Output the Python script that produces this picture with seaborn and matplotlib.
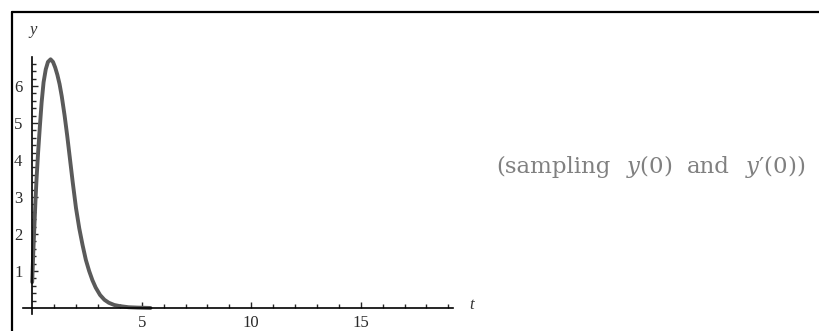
import numpy as np
import pandas as pd
import seaborn as sns
import matplotlib.pyplot as plt
from matplotlib.lines import Line2D
from matplotlib.ticker import FixedLocator

# curve
t_vals = [0.0, 0.05, 0.1, 0.15, 0.2, 0.27, 0.35, 0.43, 0.52, 0.62, 0.72, 0.84,
          0.95, 1.05, 1.15, 1.25, 1.35, 1.48, 1.6, 1.72, 1.85, 2.0, 2.15, 2.3,
          2.45, 2.6, 2.75, 2.9, 3.1, 3.3, 3.5, 3.75, 4.0, 4.4, 4.8, 5.4]
y_vals = [0.7, 1.5, 2.2, 2.9, 3.5, 4.2, 4.9, 5.55, 6.1, 6.45, 6.65, 6.72,
          6.65, 6.5, 6.3, 6.05, 5.72, 5.2, 4.65, 4.05, 3.4, 2.7, 2.15, 1.7,
          1.3, 1.0, 0.75, 0.55, 0.35, 0.22, 0.14, 0.08, 0.05, 0.02, 0.01, 0.0]

x_major = [5, 10, 15]
x_minor = [i for i in range(1, 20) if i not in x_major]
y_major = [1, 2, 3, 4, 5, 6]
y_minor = [round(0.2 * k, 1) for k in range(1, 34) if k % 5 != 0]

# caption words (the reference sets them loosely spaced)
caption_words = ["(sampling", "$y$(0)", "and", "$y$\u2032(0))"]
caption_x_px = [496, 626, 687, 745]

sns.set_style("white")
plt.rcParams['font.family'] = ['Liberation Serif', 'DejaVu Serif']
plt.rcParams['mathtext.fontset'] = 'custom'
plt.rcParams['mathtext.rm'] = 'DejaVu Serif'
plt.rcParams['mathtext.it'] = 'DejaVu Serif:italic'

fig = plt.figure(figsize=(8.19, 3.31), dpi=100)
fig.patch.set_facecolor("white")
ax = fig.add_axes([0.0286, 0.0517, 0.5242, 0.7758])
ax.set_facecolor("white")

df = pd.DataFrame({"t": t_vals, "y": y_vals})
sns.lineplot(data=df, x="t", y="y", estimator=None, sort=False,
             color="#5a5a5a", linewidth=2.8, ax=ax)

ax.set_xlim(-0.4, 19.2)
ax.set_ylim(-0.16, 6.78)

for side in ("top", "right"):
    ax.spines[side].set_visible(False)
for side in ("left", "bottom"):
    ax.spines[side].set_position(("data", 0))
    ax.spines[side].set_color("black")
    ax.spines[side].set_linewidth(1.2)

ax.xaxis.set_major_locator(FixedLocator(x_major))
ax.xaxis.set_minor_locator(FixedLocator(x_minor))
ax.yaxis.set_major_locator(FixedLocator(y_major))
ax.yaxis.set_minor_locator(FixedLocator(y_minor))
ax.set_xticklabels([str(v) for v in x_major])
ax.set_yticklabels([str(v) for v in y_major])

ax.tick_params(axis="x", which="major", direction="in", length=4.5, width=1.0,
               pad=5, labelsize=12, labelcolor="#2a2a2a", bottom=True)
ax.tick_params(axis="x", which="minor", direction="in", length=3, width=1.0, bottom=True)
ax.tick_params(axis="y", which="major", direction="in", length=4.5, width=1.0,
               pad=7, labelsize=12, labelcolor="#2a2a2a", left=True)
ax.tick_params(axis="y", which="minor", direction="in", length=3, width=1.0, left=True)

ax.set_xlabel("")
ax.set_ylabel("")
ax.grid(False)

fig.text(33 / 819, 1 - 30 / 331, "y", fontsize=12, style="italic",
         ha="center", va="center", color="#333333")
fig.text(472 / 819, 1 - 305 / 331, "t", fontsize=12, style="italic",
         ha="center", va="center", color="#333333")

for word, xp in zip(caption_words, caption_x_px):
    fig.text(xp / 819, 1 - 167 / 331, word, fontsize=16.5, color="#808080",
             family="DejaVu Serif", ha="left", va="center")

# frame lines (top and left edge)
fig.add_artist(Line2D([12 / 819, 12 / 819], [0, 1 - 12 / 331],
                      transform=fig.transFigure, color="black", lw=1.6))
fig.add_artist(Line2D([12 / 819, 1], [1 - 12 / 331, 1 - 12 / 331],
                      transform=fig.transFigure, color="black", lw=1.6))

fig.savefig("out.png", dpi=100, facecolor=fig.get_facecolor())
plt.close(fig)
